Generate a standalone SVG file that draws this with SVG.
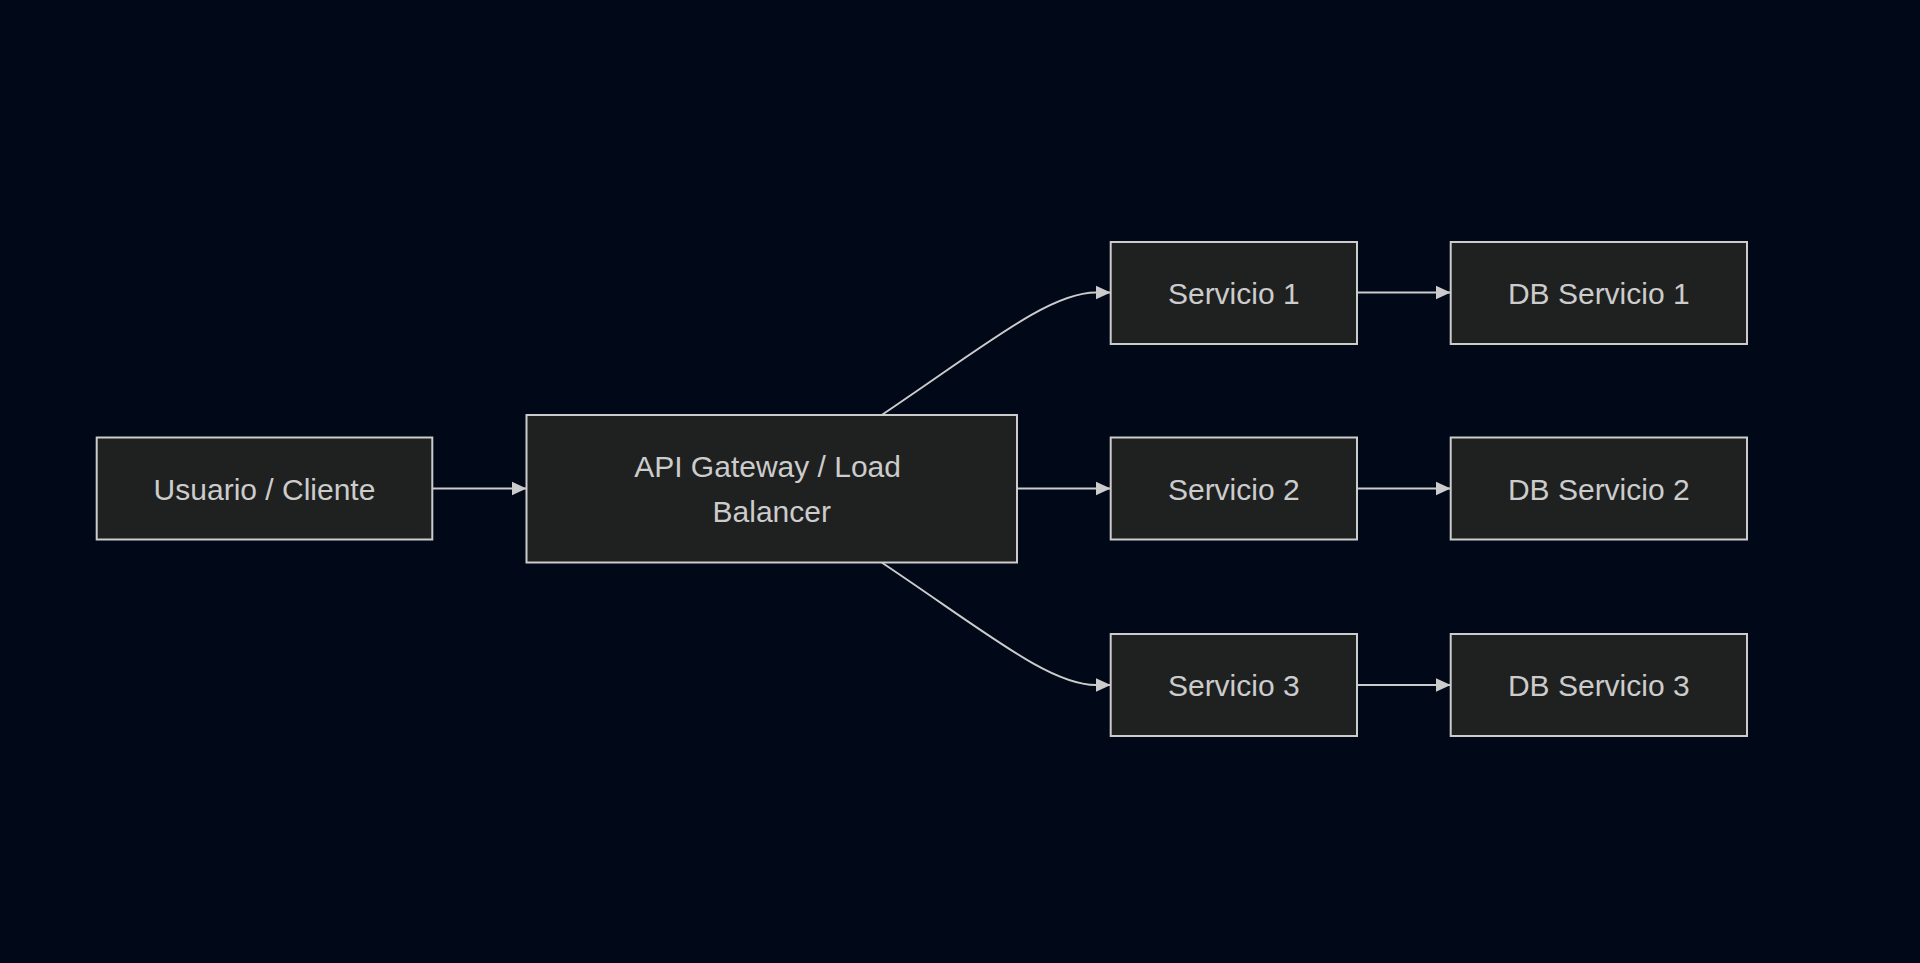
<svg xmlns="http://www.w3.org/2000/svg" width="1920" height="963" viewBox="0 0 1920 963">
<style>
.node rect{fill:#1f2020;stroke:#cccccc;stroke-width:2}
.node text{fill:#cccccc;font-family:"Liberation Sans",Arial,sans-serif;font-size:30px;text-anchor:middle}
.edge{fill:none;stroke:#cccccc;stroke-width:1.9}
</style>
<defs>
<marker id="arrow" markerUnits="userSpaceOnUse" markerWidth="16" markerHeight="16" viewBox="0 0 16 16" refX="15" refY="7.5" orient="auto">
<path d="M0,0.5 L15,7.5 L0,14.5 z" fill="#cccccc"/>
</marker>
</defs>
<rect x="0" y="0" width="1920" height="963" fill="#010818"/>
<g id="connectors">
<path class="edge" d="M432.3,488.5 L526.5,488.5" marker-end="url(#arrow)"/>
<path class="edge" d="M881.7,415 C990,342 1050,292.5 1096,292.5 L1110.7,292.5" marker-end="url(#arrow)"/>
<path class="edge" d="M1017,488.5 L1110.7,488.5" marker-end="url(#arrow)"/>
<path class="edge" d="M881.7,562.5 C990,635 1050,685 1096,685 L1110.7,685" marker-end="url(#arrow)"/>
<path class="edge" d="M1357,292.5 L1450.7,292.5" marker-end="url(#arrow)"/>
<path class="edge" d="M1357,488.5 L1450.7,488.5" marker-end="url(#arrow)"/>
<path class="edge" d="M1357,685 L1450.7,685" marker-end="url(#arrow)"/>
</g>
<g id="usuario" class="node">
<rect x="96.7" y="437.5" width="335.6" height="102"/>
<text x="264.5" y="499.5">Usuario / Cliente</text>
</g>
<g id="gateway" class="node">
<rect x="526.5" y="415" width="490.5" height="147.5"/>
<text x="767.6" y="477">API Gateway / Load</text>
<text x="771.75" y="522">Balancer</text>
</g>
<g id="servicio1" class="node">
<rect x="1110.7" y="242" width="246.3" height="102"/>
<text x="1233.8" y="304">Servicio 1</text>
</g>
<g id="servicio2" class="node">
<rect x="1110.7" y="437.5" width="246.3" height="102"/>
<text x="1233.8" y="499.5">Servicio 2</text>
</g>
<g id="servicio3" class="node">
<rect x="1110.7" y="634" width="246.3" height="102"/>
<text x="1233.8" y="696">Servicio 3</text>
</g>
<g id="db1" class="node">
<rect x="1450.7" y="242" width="296.3" height="102"/>
<text x="1598.8" y="304">DB Servicio 1</text>
</g>
<g id="db2" class="node">
<rect x="1450.7" y="437.5" width="296.3" height="102"/>
<text x="1598.8" y="499.5">DB Servicio 2</text>
</g>
<g id="db3" class="node">
<rect x="1450.7" y="634" width="296.3" height="102"/>
<text x="1598.8" y="696">DB Servicio 3</text>
</g>
</svg>
